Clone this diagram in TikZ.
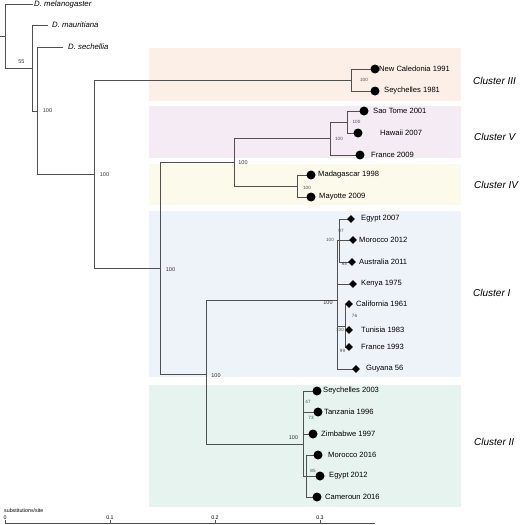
\documentclass[tikz,border=0pt]{standalone}
\usepackage{fontspec}
\setmainfont{Liberation Sans}
\usetikzlibrary{shapes.geometric}
\definecolor{linec}{HTML}{505050}
\definecolor{cIII}{HTML}{FBEFE7}
\definecolor{cV}{HTML}{F4EBF4}
\definecolor{cIV}{HTML}{FCFAEB}
\definecolor{cI}{HTML}{EEF3FA}
\definecolor{cII}{HTML}{E6F3EF}
\begin{document}
\begin{tikzpicture}[x=1pt,y=-1pt,
  br/.style={draw=linec, line width=0.8pt},
  tipdot/.style={circle, fill=black, inner sep=0pt, minimum size=9pt},
  tipdia/.style={diamond, fill=black, inner sep=0pt, minimum size=8pt},
  tl/.style={anchor=west, font=\fontsize{7.6}{9}\selectfont, inner sep=0pt},
  sp/.style={anchor=west, font=\fontsize{7.8}{9}\selectfont\itshape, inner sep=0pt},
  cl/.style={anchor=west, font=\fontsize{10}{12}\selectfont\itshape, inner sep=0pt},
  bs/.style={font=\fontsize{5.5}{6}\selectfont, inner sep=0pt, text=black!80},
  bss/.style={font=\fontsize{4.6}{5}\selectfont, inner sep=0pt, text=black!70},
  sc/.style={font=\fontsize{5.3}{6}\selectfont, inner sep=0pt, anchor=south}]
\useasboundingbox (0,0) rectangle (520,525);
% cluster backgrounds
\fill[cIII] (149,48) rectangle (461,101);
\fill[cV] (149,106) rectangle (461,158);
\fill[cIV] (149,164) rectangle (461,205);
\fill[cI] (149,211) rectangle (461,377);
\fill[cII] (149,385) rectangle (461,507);
% inner nodes
\coordinate (stem) at (0,36);
\coordinate (r) at (5,36);
\coordinate (n32) at (32,68);
\coordinate (n37) at (37,111);
\coordinate (n94) at (94,174.5);
\coordinate (n351) at (351,80);
\coordinate (n160) at (160,268.5);
\coordinate (n234) at (234,162);
\coordinate (n330) at (330,138.5);
\coordinate (n347) at (347,122);
\coordinate (n297) at (297,186);
\coordinate (n206) at (206,374);
\coordinate (n337) at (337,300);
\coordinate (n339) at (339,240);
\coordinate (n345) at (345,326);
\coordinate (n303) at (303,444);
\coordinate (n306) at (306,476);
% tips
\coordinate (tmel) at (33,4);
\coordinate (tmau) at (48,25);
\coordinate (tsec) at (63,47);
\coordinate (tnc) at (375,69);
\coordinate (tsy81) at (375,91);
\coordinate (tsao) at (364,111);
\coordinate (thaw) at (358,133);
\coordinate (tfr09) at (360,155);
\coordinate (tmad) at (311,175);
\coordinate (tmay) at (311,197);
\coordinate (tegy07) at (351,219);
\coordinate (tmor12) at (353,240);
\coordinate (taus) at (352,262);
\coordinate (tken) at (353,284);
\coordinate (tcal) at (349,304);
\coordinate (ttun) at (349,330);
\coordinate (tfr93) at (349,347);
\coordinate (tguy) at (356,369);
\coordinate (tsy03) at (317,391);
\coordinate (ttan) at (318,412);
\coordinate (tzim) at (313,434);
\coordinate (tmor16) at (318,455);
\coordinate (tegy12) at (320,476);
\coordinate (tcam) at (317,497);
% branches
\draw[br] (stem) -- (r);
\draw[br] (r) |- (tmel);
\draw[br] (r) |- (n32);
\draw[br] (n32) |- (tmau);
\draw[br] (n32) |- (n37);
\draw[br] (n37) |- (tsec);
\draw[br] (n37) |- (n94);
\draw[br] (n94) |- (n351);
\draw[br] (n351) |- (tnc);
\draw[br] (n351) |- (tsy81);
\draw[br] (n94) |- (n160);
\draw[br] (n160) |- (n234);
\draw[br] (n234) |- (n330);
\draw[br] (n330) |- (n347);
\draw[br] (n347) |- (tsao);
\draw[br] (n347) |- (thaw);
\draw[br] (n330) |- (tfr09);
\draw[br] (n234) |- (n297);
\draw[br] (n297) |- (tmad);
\draw[br] (n297) |- (tmay);
\draw[br] (n160) |- (n206);
\draw[br] (n206) |- (n337);
\draw[br] (n337) |- (n339);
\draw[br] (n339) |- (tegy07);
\draw[br] (n339) |- (tmor12);
\draw[br] (n339) |- (taus);
\draw[br] (n337) |- (tken);
\draw[br] (n337) |- (n345);
\draw[br] (n345) |- (tcal);
\draw[br] (n345) |- (ttun);
\draw[br] (n345) |- (tfr93);
\draw[br] (n337) |- (tguy);
\draw[br] (n206) |- (n303);
\draw[br] (n303) |- (tsy03);
\draw[br] (n303) |- (ttan);
\draw[br] (n303) |- (tzim);
\draw[br] (n303) |- (n306);
\draw[br] (n306) |- (tmor16);
\draw[br] (n306) |- (tegy12);
\draw[br] (n306) |- (tcam);
% markers
\foreach \t in {tnc,tsy81,tsao,thaw,tfr09,tmad,tmay,tsy03,ttan,tzim,tmor16,tegy12,tcam}
  \node[tipdot] at (\t) {};
\foreach \t in {tegy07,tmor12,taus,tken,tcal,ttun,tfr93,tguy}
  \node[tipdia] at (\t) {};
% species labels
\node[sp] (lmel) at (34,4) {D. melanogaster};
\node[sp] (lmau) at (52,25) {D. mauritiana};
\node[sp] (lsec) at (68,47) {D. sechellia};
% tip labels
\node[tl] (lnc) at (379,69) {New Caledonia 1991};
\node[tl] (lsy81) at (384,91) {Seychelles 1981};
\node[tl] (lsao) at (373,111) {Sao Tome 2001};
\node[tl] (lhaw) at (380,133) {Hawaii 2007};
\node[tl] (lfr09) at (371,155) {France 2009};
\node[tl] (lmad) at (318,175) {Madagascar 1998};
\node[tl] (lmay) at (319,197) {Mayotte 2009};
\node[tl] (legy07) at (361,219) {Egypt 2007};
\node[tl] (lmor12) at (359,240) {Morocco 2012};
\node[tl] (laus) at (359,262) {Australia 2011};
\node[tl] (lken) at (361,284) {Kenya 1975};
\node[tl] (lcal) at (356,304) {California 1961};
\node[tl] (ltun) at (361,330) {Tunisia 1983};
\node[tl] (lfr93) at (361,347) {France 1993};
\node[tl] (lguy) at (366,369) {Guyana 56};
\node[tl] (lsy03) at (323,391) {Seychelles 2003};
\node[tl] (ltan) at (324,412) {Tanzania 1996};
\node[tl] (lzim) at (321,434) {Zimbabwe 1997};
\node[tl] (lmor16) at (328,455) {Morocco 2016};
\node[tl] (legy12) at (329,476) {Egypt 2012};
\node[tl] (lcam) at (325,497) {Cameroun 2016};
% bootstrap values
\node[bs] (b55) at (21.5,62) {55};
\node[bs] (b37) at (47.5,111) {100};
\node[bs] (b94) at (104.5,175) {100};
\node[bs] (b160) at (170.5,270) {100};
\node[bs] (b234) at (243,163) {100};
\node[bs] (b206) at (216,376) {100};
\node[bs] (b337) at (328,303) {100};
\node[bs] (b303) at (293.5,438) {100};
\node[bss] (b351) at (364,80) {100};
\node[bss] (b347) at (356.5,122) {100};
\node[bss] (b330) at (339,139) {100};
\node[bss] (b297) at (307,188) {100};
\node[bss] (b339) at (330,240) {100};
\node[bss] (b97) at (341,231) {97};
\node[bss] (b68) at (344.5,264) {68};
\node[bss] (b76) at (354.5,316) {76};
\node[bss] (b345) at (340,330) {100};
\node[bss] (b99) at (342.5,351) {99};
\node[bss] (b47) at (308,402) {47};
\node[bss] (b73) at (311,418) {73};
\node[bss] (b85) at (313,471) {85};
% cluster labels
\node[cl] (cIIIl) at (473,81) {Cluster III};
\node[cl] (cVl) at (474,137) {Cluster V};
\node[cl] (cIVl) at (474,185) {Cluster IV};
\node[cl] (cIl) at (473,293) {Cluster I};
\node[cl] (cIIl) at (474,442) {Cluster II};
% scale bar
\coordinate (s0) at (5,523);
\coordinate (s1) at (110,523);
\coordinate (s2) at (215,523);
\coordinate (s3) at (320,523);
\coordinate (send) at (375,523);
\draw[br, line width=0.7pt] (s0) -- (send);
\foreach \s/\v in {s0/0,s1/0.1,s2/0.2,s3/0.3} {
  \draw[br, line width=0.6pt] (\s) -- ++(0,-3);
  \node[sc] at ([yshift=3.5pt]\s) {\v};
}
\node[font=\fontsize{5.3}{6}\selectfont, anchor=west, inner sep=0pt] (unit) at (4,510.5) {substitutions/site};
\end{tikzpicture}
\end{document}
